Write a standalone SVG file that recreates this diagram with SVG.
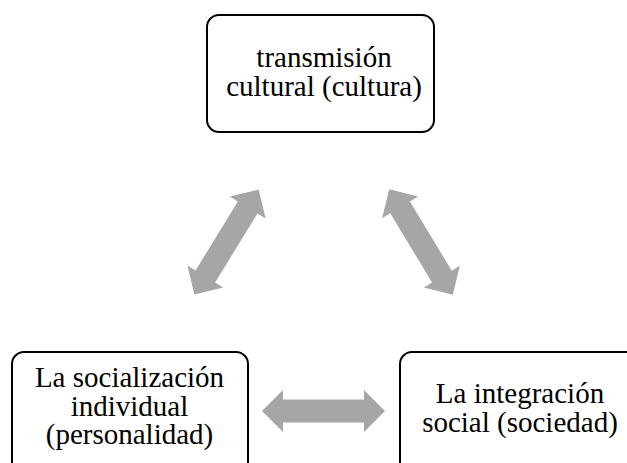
<svg xmlns="http://www.w3.org/2000/svg" width="627" height="463" viewBox="0 0 627 463">
<style>
.box{fill:#fff;stroke:#000;stroke-width:2}
.t{font-family:"Liberation Serif","Times New Roman",serif;font-size:29px;fill:#000;text-anchor:middle}
.arr{fill:#a6a6a6}
</style>
<defs>
<path id="dbl" d="M-61.5,0 L-40.5,-21 L-40.5,-11.5 L40.5,-11.5 L40.5,-21 L61.5,0 L40.5,21 L40.5,11.5 L-40.5,11.5 L-40.5,21 Z"/>
</defs>
<rect width="627" height="463" fill="#fff"/>
<g id="connectors">
<use href="#dbl" class="arr" transform="translate(226.5,242) rotate(-58.5)"/>
<use href="#dbl" class="arr" transform="translate(421,242) rotate(58.9)"/>
<use href="#dbl" class="arr" transform="translate(323.5,411)"/>
</g>
<g id="n-cultura">
<rect class="box" x="207" y="15" width="227" height="117" rx="12"/>
<text class="t" x="324" y="67">transmisión</text>
<text class="t" x="324" y="96">cultural (cultura)</text>
</g>
<g id="n-personalidad">
<rect class="box" x="12" y="352" width="236" height="130" rx="12"/>
<text class="t" x="129.5" y="387">La socialización</text>
<text class="t" x="129.5" y="416">individual</text>
<text class="t" x="129.5" y="444">(personalidad)</text>
</g>
<g id="n-sociedad">
<rect class="box" x="400" y="352" width="250" height="130" rx="12"/>
<text class="t" x="520" y="403">La integración</text>
<text class="t" x="520" y="432">social (sociedad)</text>
</g>
</svg>
